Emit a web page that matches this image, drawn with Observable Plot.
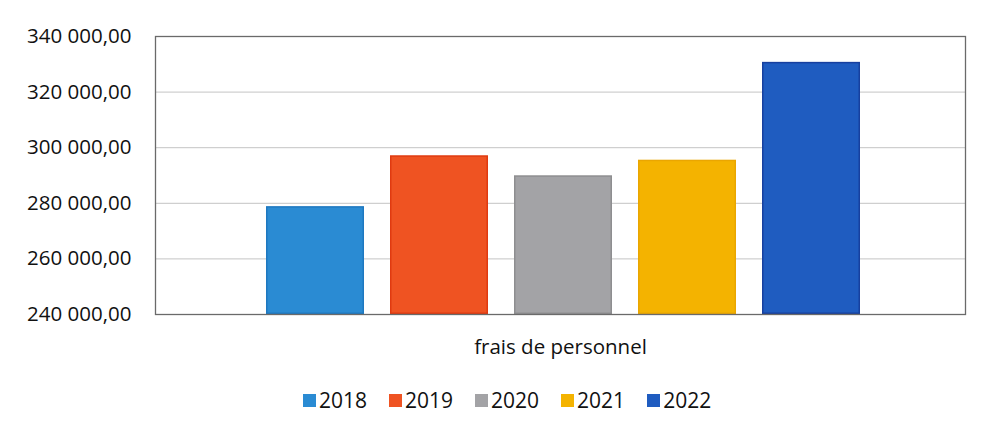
<!DOCTYPE html>
<html>
<head>
<meta charset="utf-8">
<script src="https://cdn.jsdelivr.net/npm/d3@7"></script>
<script src="https://cdn.jsdelivr.net/npm/@observablehq/plot@0.6"></script>
<style>
  html, body { margin: 0; padding: 0; background: #ffffff; }
  body { width: 982px; height: 434px; position: relative; overflow: hidden; font-family: "Open Sans", sans-serif; }
  #legend { position: absolute; top: 386px; left: 303px; display: flex; align-items: center; font-size: 21px; color: #111; }
  .item { display: flex; align-items: center; margin-right: 22px; }
  .sw { width: 13px; height: 13px; margin-right: 3px; }
</style>
</head>
<body>
<div id="chart"></div>
<div id="legend"></div>
<script>
const years = ["2018", "2019", "2020", "2021", "2022"];
const values = [278800, 297100, 289900, 295500, 330700];
const colors = ["#2a8bd3", "#ef5322", "#a3a3a6", "#f4b300", "#1f5cc0"];
const strokes = ["#1e78c0", "#e03a10", "#8e8e90", "#eaa600", "#17409f"];
const yTicks = [240000, 260000, 280000, 300000, 320000, 340000];
const xLabel = "frais de personnel";

const data = years.map((y, i) => ({year: y, value: values[i]}));
const fr = d3.formatLocale({decimal: ",", thousands: " ", grouping: [3]});
const fmt = fr.format(",.2f");

const chart = Plot.plot({
  width: 982,
  height: 370,
  marginTop: 36,
  marginBottom: 56,
  marginLeft: 155,
  marginRight: 17,
  style: {fontFamily: "Open Sans, sans-serif", fontSize: "20.5px", color: "#111", background: "transparent"},
  x: {domain: years, paddingInner: 0.21, paddingOuter: 0.86, align: 0.514, axis: null},
  y: {domain: [240000, 340000], ticks: yTicks, tickFormat: fmt, label: null},
  color: {domain: years, range: colors},
  marks: [
    Plot.gridY(yTicks, {stroke: "#c4c4c4", strokeOpacity: 1, strokeWidth: 1}),
    Plot.barY(data, {x: "year", y1: 240000, y2: "value", fill: "year", stroke: d => strokes[years.indexOf(d.year)], strokeWidth: 1.5, inset: 0.75}),
    Plot.axisY(yTicks, {tickSize: 0, tickPadding: 24, tickFormat: fmt, label: null, fontSize: "20.5px"}),
    Plot.frame({stroke: "#6a6a6a", strokeWidth: 1.3}),
    Plot.text([xLabel], {frameAnchor: "bottom", dy: 33, lineAnchor: "middle", fontSize: "20.5px", fill: "#111"})
  ]
});
document.getElementById("chart").appendChild(chart);

const legend = document.getElementById("legend");
years.forEach((y, i) => {
  const it = document.createElement("div");
  it.className = "item";
  const sw = document.createElement("span");
  sw.className = "sw";
  sw.style.background = colors[i];
  const t = document.createElement("span");
  t.textContent = y;
  it.appendChild(sw);
  it.appendChild(t);
  legend.appendChild(it);
});
</script>
</body>
</html>
